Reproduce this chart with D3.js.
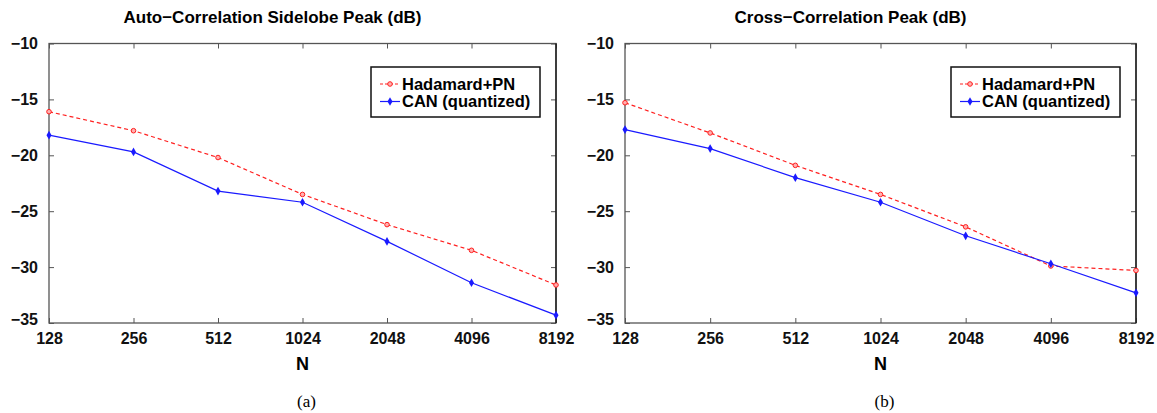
<!DOCTYPE html>
<html>
<head>
<meta charset="utf-8">
<style>
body { margin: 0; background: #fff; }
text { font-family: "Liberation Sans", Arial, sans-serif; }
</style>
</head>
<body>
<script src="https://cdn.jsdelivr.net/npm/d3@7"></script>
<script>

var nValues = ["128", "256", "512", "1024", "2048", "4096", "8192"];
var yTicks = [-10, -15, -20, -25, -30, -35];
var seriesNames = ["Hadamard+PN", "CAN (quantized)"];

// panel (a) auto-correlation sidelobe peak
var autoHadamard = [-16.1, -17.8, -20.2, -23.5, -26.2, -28.5, -31.6];
var autoCAN = [-18.2, -19.7, -23.2, -24.2, -27.7, -31.4, -34.3];

// panel (b) cross-correlation peak
var crossHadamard = [-15.3, -18.0, -20.9, -23.5, -26.4, -29.9, -30.3];
var crossCAN = [-17.7, -19.4, -22.0, -24.2, -27.2, -29.7, -32.3];

var W = 1157, H = 413;
var svg = d3.select("body").append("svg")
	.attr("width", W)
	.attr("height", H);

function minusFmt(v) { return String(v).replace("-", "\u2212"); }

function panel(left, right, title, hada, can, caption) {
	var top = 43.5, bottom = 323;

	var x = d3.scalePoint().domain(nValues).range([left, right]);
	var y = d3.scaleLinear().domain([-35, -10]).range([bottom, top]);

	var g = svg.append("g");

	// title
	g.append("text")
		.attr("x", (left + right) / 2 - 30)
		.attr("y", 23)
		.attr("text-anchor", "middle")
		.attr("font-size", 17)
		.attr("font-weight", "bold")
		.text(title);

	// frame
	g.append("rect")
		.attr("x", left).attr("y", top)
		.attr("width", right - left).attr("height", bottom - top)
		.attr("fill", "none")
		.attr("stroke", "#555")
		.attr("stroke-width", 1.3);

	// bottom axis, ticks inward
	var xa = g.append("g")
		.attr("transform", "translate(0," + bottom + ")")
		.call(d3.axisBottom(x).tickSizeInner(-5).tickSizeOuter(0).tickPadding(10));
	xa.select(".domain").remove();
	xa.selectAll("line").attr("stroke", "#555");
	xa.selectAll("text")
		.attr("font-size", 16)
		.attr("font-weight", "bold")
		.attr("fill", "#111")
		.style("font-family", "Liberation Sans, Arial, sans-serif");

	// top ticks
	var xt = g.append("g")
		.attr("transform", "translate(0," + top + ")")
		.call(d3.axisTop(x).tickSizeInner(-5).tickSizeOuter(0).tickFormat(""));
	xt.select(".domain").remove();
	xt.selectAll("line").attr("stroke", "#555");

	// left axis
	var ya = g.append("g")
		.attr("transform", "translate(" + left + ",0)")
		.call(d3.axisLeft(y).tickValues(yTicks).tickSizeInner(-5).tickSizeOuter(0).tickPadding(11).tickFormat(minusFmt));
	ya.select(".domain").remove();
	ya.selectAll("line").attr("stroke", "#555");
	ya.selectAll("text")
		.attr("font-size", 16)
		.attr("font-weight", "bold")
		.attr("fill", "#111")
		.style("font-family", "Liberation Sans, Arial, sans-serif");
	ya.selectAll(".tick").filter(d => d === -35).select("text").attr("dy", "0.1em");

	// right ticks
	var yr = g.append("g")
		.attr("transform", "translate(" + right + ",0)")
		.call(d3.axisRight(y).tickValues(yTicks).tickSizeInner(-5).tickSizeOuter(0).tickFormat(""));
	yr.select(".domain").remove();
	yr.selectAll("line").attr("stroke", "#555");

	// right border darker
	g.append("line")
		.attr("x1", right).attr("x2", right)
		.attr("y1", top).attr("y2", bottom)
		.attr("stroke", "#111").attr("stroke-width", 1.3);

	var line = d3.line()
		.x((d, i) => x(nValues[i]))
		.y(d => y(d));

	g.append("path")
		.datum(hada)
		.attr("d", line)
		.attr("fill", "none")
		.attr("stroke", "#ff2020")
		.attr("stroke-width", 1.2)
		.attr("stroke-dasharray", "4,3");

	g.append("path")
		.datum(can)
		.attr("d", line)
		.attr("fill", "none")
		.attr("stroke", "#1a1aff")
		.attr("stroke-width", 1.2);

	g.selectAll(".hm")
		.data(hada)
	  .enter().append("circle")
		.attr("cx", (d, i) => x(nValues[i]))
		.attr("cy", d => y(d))
		.attr("r", 2.3)
		.attr("fill", "#ffb0b0")
		.attr("stroke", "#ff2020")
		.attr("stroke-width", 1);

	g.selectAll(".cm")
		.data(can)
	  .enter().append("path")
		.attr("transform", (d, i) => "translate(" + x(nValues[i]) + "," + y(d) + ")")
		.attr("d", d3.symbol().type(d3.symbolDiamond).size(22))
		.attr("fill", "#1a1aff");

	// legend
	var lx = right - 185, ly = 67, lw = 169, lh = 50;
	var lg = g.append("g");
	lg.append("rect")
		.attr("x", lx).attr("y", ly)
		.attr("width", lw).attr("height", lh)
		.attr("fill", "#fff")
		.attr("stroke", "#111")
		.attr("stroke-width", 1.5);

	var rows = [
		{ name: seriesNames[0], color: "#ff2020", dash: "3,2", circle: true },
		{ name: seriesNames[1], color: "#1a1aff", dash: null, circle: false }
	];
	rows.forEach((r, i) => {
		var cy = ly + 17 + i * 17.5;
		lg.append("line")
			.attr("x1", lx + 9).attr("x2", lx + 29)
			.attr("y1", cy).attr("y2", cy)
			.attr("stroke", r.color)
			.attr("stroke-width", 1.2)
			.attr("stroke-dasharray", r.dash);
		if (r.circle)
			lg.append("circle").attr("cx", lx + 19).attr("cy", cy).attr("r", 2.3)
				.attr("fill", "#ffb0b0").attr("stroke", r.color);
		else
			lg.append("path").attr("transform", "translate(" + (lx + 19) + "," + cy + ")")
				.attr("d", d3.symbol().type(d3.symbolDiamond).size(22))
				.attr("fill", r.color);
		lg.append("text")
			.attr("x", lx + 31)
			.attr("y", cy + 5.5)
			.attr("font-size", 16.5)
			.attr("font-weight", "bold")
			.text(r.name);
	});

	// x label
	g.append("text")
		.attr("x", (left + right) / 2)
		.attr("y", 370)
		.attr("text-anchor", "middle")
		.attr("font-size", 18)
		.attr("font-weight", "bold")
		.text("N");

	g.append("text")
		.attr("x", (left + right) / 2 + 4)
		.attr("y", 407)
		.attr("text-anchor", "middle")
		.attr("font-size", 17)
		.style("font-family", "Liberation Serif, Times New Roman, serif")
		.text(caption);
}

panel(49, 556, "Auto\u2212Correlation Sidelobe Peak (dB)", autoHadamard, autoCAN, "(a)");
panel(625, 1136, "Cross\u2212Correlation Peak (dB)", crossHadamard, crossCAN, "(b)");

</script>
</body>
</html>
